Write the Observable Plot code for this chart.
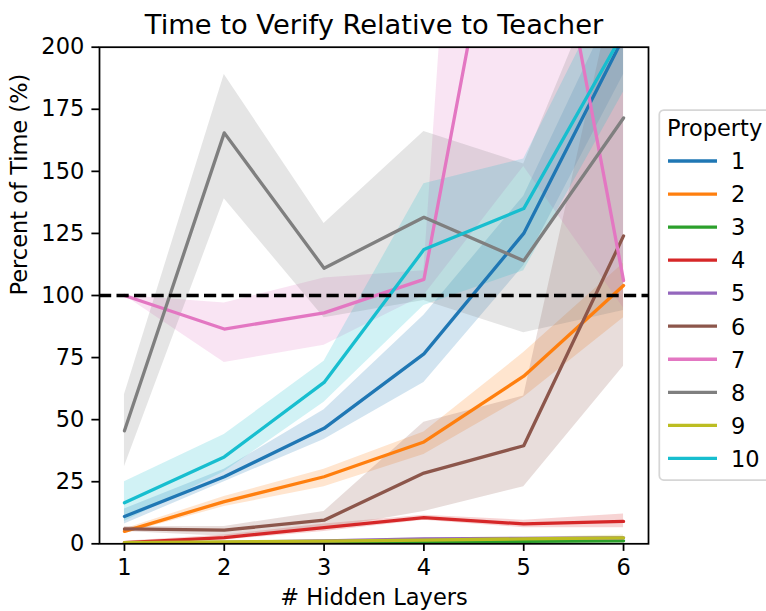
<!DOCTYPE html>
<html>
<head>
<meta charset="utf-8">
<script src="https://cdn.jsdelivr.net/npm/d3@7"></script>
<script src="https://cdn.jsdelivr.net/npm/@observablehq/plot@0.6"></script>
<style>
  html, body { margin: 0; padding: 0; background: white; }
  #wrap { position: relative; width: 766px; height: 611px; overflow: hidden; font-family: "DejaVu Sans", sans-serif; }
  #wrap svg { position: absolute; left: 0; top: 0; }
</style>
</head>
<body>
<div id="wrap"></div>
<script>
// ---- data ----
const xs = [1, 2, 3, 4, 5, 6];
const properties = ["1", "2", "3", "4", "5", "6", "7", "8", "9", "10"];
const colors = ["#1f77b4", "#ff7f0e", "#2ca02c", "#d62728", "#9467bd", "#8c564b", "#e377c2", "#7f7f7f", "#bcbd22", "#17becf"];
const xTicks = [1, 2, 3, 4, 5, 6];
const yTicks = [0, 25, 50, 75, 100, 125, 150, 175, 200];
const teacherLevel = [100];

const means = [
  [11, 27, 46.5, 76.5, 125, 204],
  [5, 17, 27, 41, 67.5, 104],
  [0.2, 0.4, 0.6, 0.8, 1.0, 1.2],
  [0.5, 2.5, 6.5, 10.5, 8, 9],
  [0.3, 0.6, 1.2, 2.0, 2.2, 2.4],
  [6, 5.5, 9.5, 28.5, 39.5, 124],
  [100, 86.5, 93, 106.5, 320, 106],
  [45.5, 165.5, 111, 131.5, 114, 171.5],
  [0.5, 0.8, 1.1, 1.5, 2.0, 2.4],
  [16.5, 35, 65, 118.5, 135, 206]
];
const lows = [
  [8, 25, 42, 65, 112, 189],
  [4, 15, 23, 36, 59, 91],
  [0.1, 0.3, 0.4, 0.6, 0.8, 0.9],
  [0, 1.5, 5, 9.5, 6.5, 6.5],
  [0.2, 0.4, 0.9, 1.6, 1.8, 1.9],
  [5, 3, 6, 13, 23, 71.5],
  [100, 73, 80, 100, 152, 95],
  [31, 139, 91, 98, 85, 94],
  [0.3, 0.5, 0.8, 1.1, 1.5, 1.6],
  [9, 29, 57, 96, 110, 182]
];
const highs = [
  [14, 30, 54, 92, 140, 225],
  [6, 19, 30, 45, 77, 113],
  [0.3, 0.5, 0.8, 1.0, 1.2, 1.5],
  [1, 3.5, 8, 11.5, 9.5, 12],
  [0.4, 0.8, 1.5, 2.4, 2.6, 2.9],
  [7, 7, 13, 49, 59.5, 240],
  [100, 97, 107, 110, 700, 300],
  [60, 189, 129, 166, 153, 250],
  [0.7, 1.1, 1.4, 1.9, 2.5, 3.5],
  [25, 44, 73.5, 145, 155, 235]
];

const title = "Time to Verify Relative to Teacher";
const xLabel = "# Hidden Layers";
const yLabel = "Percent of Time (%)";
const legendTitle = "Property";

// ---- build table ----
const rows = [];
properties.forEach((p, i) => {
  xs.forEach((x, j) => {
    rows.push({prop: p, x, mean: means[i][j], lo: lows[i][j], hi: highs[i][j]});
  });
});

const FS = 22.5;
const chart = Plot.plot({
  width: 766,
  height: 611,
  marginLeft: 99,
  marginRight: 118,
  marginTop: 46.7,
  marginBottom: 67.7,
  style: {fontFamily: "DejaVu Sans", fontSize: FS + "px", background: "white", color: "black", overflow: "visible"},
  x: {domain: [0.75, 6.25]},
  y: {domain: [0, 200]},
  color: {domain: properties, range: colors},
  marks: [
    Plot.areaY(rows, {x: "x", y1: "lo", y2: "hi", z: "prop", fill: "prop", fillOpacity: 0.2, clip: true}),
    Plot.lineY(rows, {x: "x", y: "mean", z: "prop", stroke: "prop", strokeWidth: 3.3, clip: true}),
    Plot.ruleY(teacherLevel, {stroke: "black", strokeWidth: 3.3, strokeDasharray: "12.2,5.3"}),
    Plot.frame({stroke: "black", strokeWidth: 1.75}),
    Plot.axisX({ticks: xTicks, tickSize: 7.6, tickPadding: 7.2, strokeWidth: 1.75, label: null, fontSize: FS, tickFormat: d => String(d)}),
    Plot.axisY({ticks: yTicks, tickSize: 7.6, tickPadding: 7.6, strokeWidth: 1.75, label: null, fontSize: FS, tickFormat: d => String(d)}),
    Plot.text([title], {frameAnchor: "top", dy: -13.5, lineAnchor: "bottom", fontSize: 27.3, text: d => d}),
    Plot.text([xLabel], {frameAnchor: "bottom", dy: 61.5, lineAnchor: "bottom", fontSize: FS, text: d => d}),
    Plot.text([yLabel], {frameAnchor: "left", dx: -72.4, rotate: -90, lineAnchor: "bottom", fontSize: FS, text: d => d})
  ]
});
document.getElementById("wrap").appendChild(chart);

// ---- legend ----
const leg = d3.select("#wrap").append("svg")
  .attr("width", 766).attr("height", 611)
  .style("pointer-events", "none")
  .attr("font-family", "DejaVu Sans")
  .attr("font-size", FS);
leg.append("rect")
  .attr("x", 659.3).attr("y", 110).attr("width", 140).attr("height", 370)
  .attr("rx", 4.5).attr("ry", 4.5)
  .attr("fill", "white").attr("fill-opacity", 0.8)
  .attr("stroke", "#d6d6d6").attr("stroke-width", 1.75);
leg.append("text").attr("x", 667).attr("y", 136).text(legendTitle);
properties.forEach((p, i) => {
  const base = 169.3 + 33.04 * i;
  leg.append("line")
    .attr("x1", 668).attr("x2", 717).attr("y1", base - 8.3).attr("y2", base - 8.3)
    .attr("stroke", colors[i]).attr("stroke-width", 3.3);
  leg.append("text").attr("x", 731).attr("y", base).text(p);
});
</script>
</body>
</html>
